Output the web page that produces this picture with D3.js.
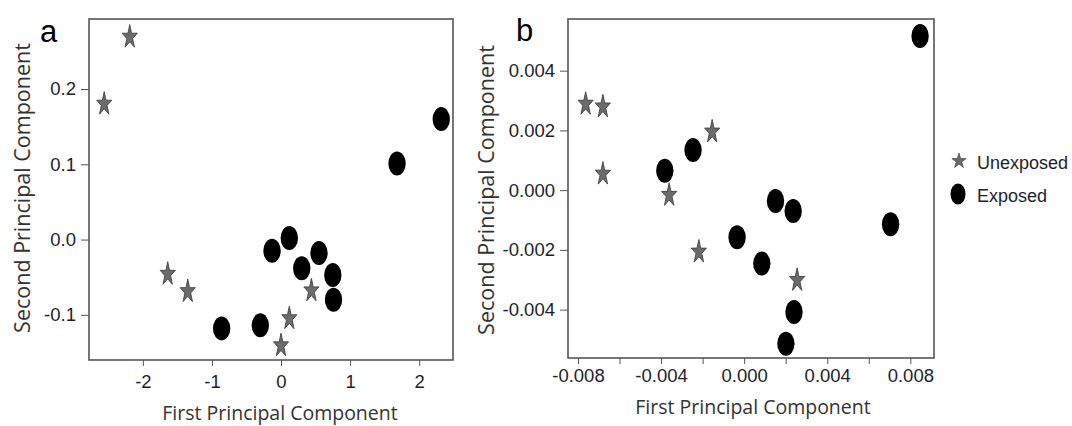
<!DOCTYPE html>
<html><head><meta charset="utf-8">
<script src="https://cdn.jsdelivr.net/npm/d3@7"></script>
<style>
body{margin:0;background:#fff;}
svg{display:block;}
</style></head>
<body>
<svg id="c" width="1072" height="426"></svg>
<script>
// Panel a data
const aUnexposedX = [-2.19, -2.56, -1.64, -1.35, 0.44, 0.12, 0.00];
const aUnexposedY = [0.269, 0.180, -0.046, -0.069, -0.068, -0.105, -0.141];
const aExposedX = [2.32, 1.68, 0.12, -0.13, 0.55, 0.30, 0.75, 0.76, -0.30, -0.86];
const aExposedY = [0.160, 0.101, 0.002, -0.015, -0.018, -0.038, -0.047, -0.080, -0.114, -0.118];
const aXTicks = [-2, -1, 0, 1, 2];
const aYTicks = [0.2, 0.1, 0.0, -0.1];

// Panel b data
const bUnexposedX = [-0.00763, -0.00680, -0.00154, -0.00680, -0.00361, -0.00218, 0.00255];
const bUnexposedY = [0.00288, 0.00279, 0.00195, 0.00054, -0.00017, -0.00207, -0.00302];
const bExposedX = [0.00847, -0.00246, -0.00382, 0.00151, 0.00236, 0.00705, -0.00034, 0.00085, 0.00240, 0.00201];
const bExposedY = [0.00516, 0.00134, 0.00065, -0.00036, -0.00070, -0.00114, -0.00158, -0.00246, -0.00408, -0.00514];
const bXTicks = [-0.008, -0.006, -0.004, -0.002, 0, 0.002, 0.004, 0.006, 0.008];
const bXLabels = [-0.008, -0.004, 0, 0.004, 0.008];
const bYTicks = [0.004, 0.002, 0.000, -0.002, -0.004];

const legendLabels = ["Unexposed", "Exposed"];

const svg = d3.select("#c");
const starPath = d3.symbol().type(d3.symbolStar).size(112)();
const TICKFONT = "'Liberation Sans', Arial, sans-serif";
const TITLEFONT = "'Open Sans', 'Noto Sans', sans-serif";

function drawStar(g, x, y, sx, sy){
  g.append("path").attr("d", starPath)
    .attr("transform", `translate(${x},${y}) scale(${sx},${sy})`)
    .attr("fill", "#6b6b6b").attr("stroke", "#3a3a3a").attr("stroke-width", 0.8);
}
function drawDot(g, x, y, rx, ry){
  g.append("ellipse").attr("cx", x).attr("cy", y).attr("rx", rx).attr("ry", ry).attr("fill", "#000");
}
const hyph = f => d => f(d).replace("\u2212", "-");

function panel(cfg){
  const x = d3.scaleLinear().domain(cfg.xd).range([cfg.l, cfg.r]);
  const y = d3.scaleLinear().domain(cfg.yd).range([cfg.b, cfg.t]);
  const g = svg.append("g");
  const xa = d3.axisBottom(x).tickValues(cfg.xt).tickSize(6).tickSizeOuter(0)
    .tickFormat(d => cfg.xl.some(v => Math.abs(v - d) < 1e-9) ? hyph(cfg.xf)(d) : "");
  const gx = g.append("g").attr("transform", `translate(0,${cfg.b})`).call(xa);
  gx.select(".domain").remove();
  gx.selectAll(".tick line").attr("stroke", "#555");
  gx.selectAll(".tick text").attr("dy", "0").attr("y", cfg.xlb)
    .style("font-family", TICKFONT).style("font-size", "18.5px").style("fill", "#1e1e2e");
  const ya = d3.axisLeft(y).tickValues(cfg.yt).tickSize(8).tickSizeOuter(0).tickFormat(hyph(cfg.yf));
  const gy = g.append("g").attr("transform", `translate(${cfg.l},0)`).call(ya);
  gy.select(".domain").remove();
  gy.selectAll(".tick line").attr("stroke", "#555");
  gy.selectAll(".tick text").attr("x", -13)
    .style("font-family", TICKFONT).style("font-size", "18.5px").style("fill", "#1e1e2e");
  g.append("rect").attr("x", cfg.l).attr("y", cfg.t).attr("width", cfg.r - cfg.l).attr("height", cfg.b - cfg.t)
    .attr("fill", "none").attr("stroke", "#555").attr("stroke-width", 1.6);
  cfg.ux.forEach((v, i) => drawStar(g, x(v), y(cfg.uy[i]), 0.8, 1.25));
  cfg.ex.forEach((v, i) => drawDot(g, x(v), y(cfg.ey[i]), 8.7, 12));
  g.append("text").attr("x", cfg.xtx).attr("y", cfg.xty).attr("text-anchor", "middle")
    .style("font-family", TITLEFONT).style("font-size", "19.5px").style("fill", "#333").text("First Principal Component");
  g.append("text").attr("transform", `translate(${cfg.ytx},${cfg.yty}) rotate(-90)`).attr("text-anchor", "middle")
    .style("font-family", TITLEFONT).style("font-size", "21.5px").style("fill", "#333").text("Second Principal Component");
  g.append("text").attr("x", cfg.lx).attr("y", cfg.ly)
    .style("font-family", TICKFONT).style("font-size", "31px").style("fill", "#000").text(cfg.label);
}

panel({
  xd: [-2.78, 2.49], yd: [-0.160, 0.293], l: 89, r: 453, t: 19, b: 360,
  xt: aXTicks, xl: aXTicks, yt: aYTicks, xlb: 28,
  xf: d3.format("d"), yf: d3.format(".1f"),
  ux: aUnexposedX, uy: aUnexposedY, ex: aExposedX, ey: aExposedY,
  xtx: 280, xty: 420, ytx: 30, yty: 188, label: "a", lx: 40, ly: 42
});
panel({
  xd: [-0.00848, 0.00914], yd: [-0.00562, 0.00573], l: 568, r: 934, t: 19, b: 358,
  xt: bXTicks, xl: bXLabels, yt: bYTicks, xlb: 24,
  xf: d3.format(".3f"), yf: d3.format(".3f"),
  ux: bUnexposedX, uy: bUnexposedY, ex: bExposedX, ey: bExposedY,
  xtx: 753, xty: 414, ytx: 494, yty: 190, label: "b", lx: 516, ly: 41
});

// legend
const lg = svg.append("g");
drawStar(lg, 959, 161, 0.75, 0.8);
drawDot(lg, 958, 194, 7.5, 10.5);
lg.selectAll("text.lt").data(legendLabels).join("text").attr("class", "lt")
  .attr("x", 977).attr("y", (d, i) => 169 + i * 33)
  .style("font-family", TICKFONT).style("font-size", "18px").style("fill", "#1e1e2e").text(d => d);
</script>
</body></html>
